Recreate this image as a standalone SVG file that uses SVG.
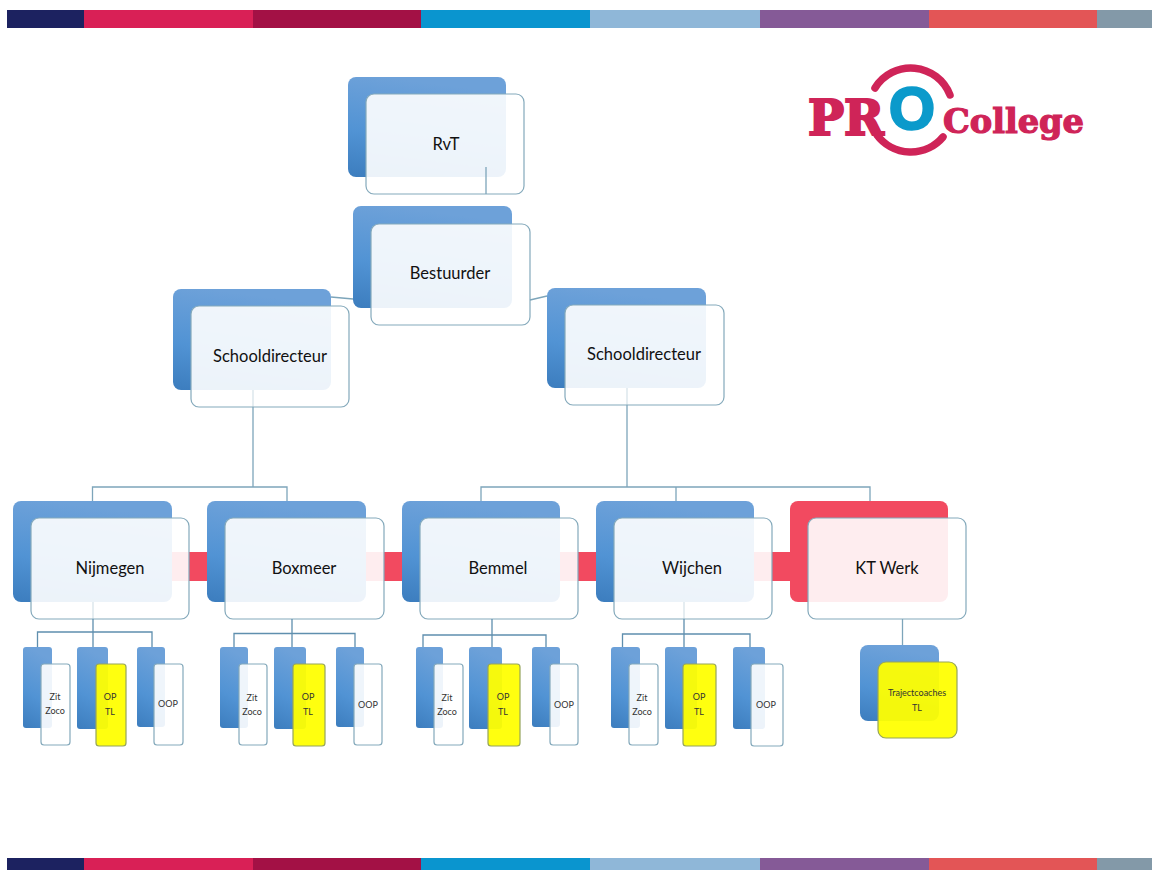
<svg xmlns="http://www.w3.org/2000/svg" width="1152" height="870" viewBox="0 0 1152 870">
<style>
text{font-family:"Lato","Open Sans","Liberation Sans",sans-serif;fill:#111;text-anchor:middle}
.l{font-size:16.5px}.s{font-size:9px;fill:#333}
.b{fill:url(#blue)}.r{fill:#f24a60}
.f{fill:#fff;fill-opacity:.9;stroke:#84a9bb;stroke-width:1.2}
.y{fill:#ffff00;fill-opacity:.94;stroke:#95a45c;stroke-width:1.2}
.c{fill:none;stroke:#7da5ba;stroke-width:1.3}
.d{stroke:#5f8fae}
.logo{font-family:"DejaVu Serif",serif;font-weight:700;fill:#cf2458;stroke:#cf2458;text-anchor:start}
</style>
<defs><linearGradient id="blue" x1=".2" y1="0" x2="0" y2="1"><stop offset="0" stop-color="#6da1d9"/><stop offset=".55" stop-color="#5193d4"/><stop offset="1" stop-color="#3c7dbe"/></linearGradient></defs>
<g id="bars">
<rect x="7" y="10" width="77" height="18" fill="#1c2260"/><rect x="84" y="10" width="169" height="18" fill="#d92056"/><rect x="253" y="10" width="168" height="18" fill="#a31145"/><rect x="421" y="10" width="169" height="18" fill="#0a95cf"/><rect x="590" y="10" width="170" height="18" fill="#8fb7d8"/><rect x="760" y="10" width="169" height="18" fill="#855a97"/><rect x="929" y="10" width="168" height="18" fill="#e35556"/><rect x="1097" y="10" width="55" height="18" fill="#8399a8"/>
<rect x="7" y="858" width="77" height="12" fill="#1c2260"/><rect x="84" y="858" width="169" height="12" fill="#d92056"/><rect x="253" y="858" width="168" height="12" fill="#a31145"/><rect x="421" y="858" width="169" height="12" fill="#0a95cf"/><rect x="590" y="858" width="170" height="12" fill="#8fb7d8"/><rect x="760" y="858" width="169" height="12" fill="#855a97"/><rect x="929" y="858" width="168" height="12" fill="#e35556"/><rect x="1097" y="858" width="55" height="12" fill="#8399a8"/>
</g>
<g id="logo">
<path d="M875 88A42 42 0 0 1 950 95M877 135A42 42 0 0 0 943 137" fill="none" stroke="#cf2458" stroke-width="7.500" stroke-linecap="round"/>
<text class="logo" x="808" y="135" font-size="48" stroke-width="2.200" textLength="76" lengthAdjust="spacingAndGlyphs">PR</text>
<text x="912" y="129" font-size="59" style="font-family:'Liberation Sans',sans-serif;font-weight:700;fill:#0b9acb;stroke:#0b9acb;stroke-width:2.500">O</text>
<text class="logo" x="943" y="133" font-size="33" stroke-width="1.200" textLength="141" lengthAdjust="spacingAndGlyphs">College</text>
</g>
<g id="red-links">
<rect class="r" x="172" y="552" width="36" height="29"/><rect class="r" x="366" y="552" width="37" height="29"/><rect class="r" x="560" y="552" width="37" height="29"/><rect class="r" x="754" y="552" width="37" height="29"/>
</g>
<g id="rvt"><rect class="b" x="348" y="77" width="158" height="100" rx="8"/><rect class="f" x="366" y="94" width="158" height="100" rx="8"/><text class="l" x="446" y="150">RvT</text></g>
<g id="bestuurder"><rect class="b" x="353" y="206" width="159" height="102" rx="8"/><rect class="f" x="371" y="224" width="159" height="101" rx="8"/><text class="l" x="450" y="279">Bestuurder</text></g>
<g id="schooldirecteur-l"><rect class="b" x="173" y="289" width="158" height="101" rx="8"/><rect class="f" x="191" y="306" width="158" height="101" rx="8"/><text class="l" x="270" y="362">Schooldirecteur</text></g>
<g id="schooldirecteur-r"><rect class="b" x="547" y="288" width="159" height="100" rx="8"/><rect class="f" x="565" y="305" width="159" height="100" rx="8"/><text class="l" x="644" y="360">Schooldirecteur</text></g>
<g id="nijmegen"><rect class="b" x="13" y="501" width="159" height="101" rx="8"/><rect class="f" x="31" y="518" width="158" height="101" rx="8"/><text class="l" x="110" y="574">Nijmegen</text></g>
<g id="boxmeer"><rect class="b" x="207" y="501" width="159" height="101" rx="8"/><rect class="f" x="225" y="518" width="159" height="101" rx="8"/><text class="l" x="304" y="574">Boxmeer</text></g>
<g id="bemmel"><rect class="b" x="402" y="501" width="158" height="101" rx="8"/><rect class="f" x="420" y="518" width="158" height="101" rx="8"/><text class="l" x="498" y="574">Bemmel</text></g>
<g id="wijchen"><rect class="b" x="596" y="501" width="158" height="101" rx="8"/><rect class="f" x="614" y="518" width="158" height="101" rx="8"/><text class="l" x="692" y="574">Wijchen</text></g>
<g id="kt-werk"><rect class="r" x="790" y="501" width="158" height="101" rx="8"/><rect class="f" x="808" y="518" width="158" height="101" rx="8"/><text class="l" x="887" y="574">KT Werk</text></g>

<g id="nij-zit"><rect class="b" x="23" y="647" width="29" height="81" rx="3"/><rect class="f" x="41" y="664" width="29" height="81" rx="3"/><text class="s" x="55" y="700">Zit</text><text class="s" x="55" y="714">Zoco</text></g>
<g id="nij-op"><rect class="b" x="77" y="647" width="31" height="82" rx="3"/><rect class="y" x="96" y="664" width="30" height="82" rx="3"/><text class="s" x="110" y="700">OP</text><text class="s" x="110" y="715">TL</text></g>
<g id="nij-oop"><rect class="b" x="137" y="647" width="28" height="80" rx="3"/><rect class="f" x="154" y="664" width="29" height="81" rx="3"/><text class="s" x="168" y="707">OOP</text></g>
<g id="box-zit"><rect class="b" x="220" y="647" width="28" height="81" rx="3"/><rect class="f" x="239" y="664" width="28" height="81" rx="3"/><text class="s" x="252" y="701">Zit</text><text class="s" x="252" y="715">Zoco</text></g>
<g id="box-op"><rect class="b" x="274" y="647" width="32" height="82" rx="3"/><rect class="y" x="293" y="664" width="32" height="82" rx="3"/><text class="s" x="308" y="700">OP</text><text class="s" x="308" y="715">TL</text></g>
<g id="box-oop"><rect class="b" x="336" y="647" width="28" height="80" rx="3"/><rect class="f" x="354" y="664" width="28" height="81" rx="3"/><text class="s" x="368" y="708">OOP</text></g>
<g id="bem-zit"><rect class="b" x="416" y="647" width="27" height="81" rx="3"/><rect class="f" x="434" y="664" width="29" height="81" rx="3"/><text class="s" x="447" y="701">Zit</text><text class="s" x="447" y="715">Zoco</text></g>
<g id="bem-op"><rect class="b" x="469" y="647" width="33" height="82" rx="3"/><rect class="y" x="488" y="664" width="32" height="82" rx="3"/><text class="s" x="503" y="700">OP</text><text class="s" x="503" y="715">TL</text></g>
<g id="bem-oop"><rect class="b" x="532" y="647" width="28" height="80" rx="3"/><rect class="f" x="550" y="664" width="28" height="81" rx="3"/><text class="s" x="564" y="708">OOP</text></g>
<g id="wij-zit"><rect class="b" x="611" y="647" width="29" height="81" rx="3"/><rect class="f" x="629" y="664" width="29" height="81" rx="3"/><text class="s" x="642" y="701">Zit</text><text class="s" x="642" y="715">Zoco</text></g>
<g id="wij-op"><rect class="b" x="665" y="647" width="32" height="82" rx="3"/><rect class="y" x="683" y="664" width="33" height="82" rx="3"/><text class="s" x="699" y="700">OP</text><text class="s" x="699" y="715">TL</text></g>
<g id="wij-oop"><rect class="b" x="733" y="647" width="32" height="82" rx="3"/><rect class="f" x="751" y="664" width="32" height="82" rx="3"/><text class="s" x="766" y="708">OOP</text></g>
<g id="trajectcoaches"><rect class="b" x="860" y="645" width="79" height="76" rx="8"/><rect class="y" x="878" y="662" width="79" height="76" rx="8"/><text class="s" x="917" y="696">Trajectcoaches</text><text class="s" x="917" y="711">TL</text></g>

<g id="connectors">
<path class="c" d="M486 167V194M331 297L353 299M530 300L547 296"/>
<path class="c" d="M253 407V487M92.500 501V487H287V501"/>
<path class="c" d="M627 405V487M481 501V487H870V501M676 487V501"/>
<path class="c d" d="M93 619V647M37.500 647V632H152V647"/>
<path class="c d" d="M292 619V647M234 647V633.500H355V647"/>
<path class="c d" d="M492 619V647M423 647V635H546V647"/>
<path class="c d" d="M684 619V647M622.500 647V634H750V647"/>
<path class="c" d="M902.500 619V645"/>
<path class="c" opacity=".3" d="M253 390V407M627 388V405M93 602V619M684 602V619"/>
</g>
</svg>
